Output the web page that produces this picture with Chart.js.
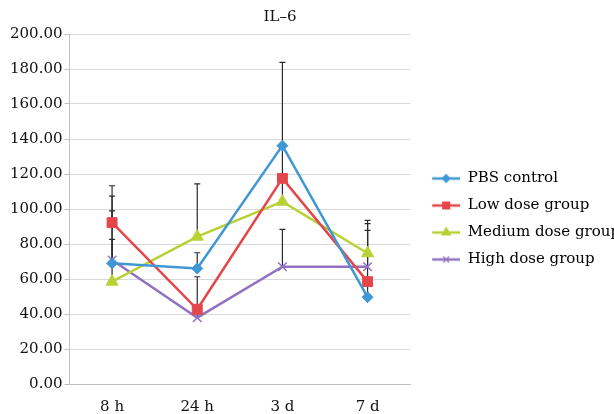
<!DOCTYPE html>
<html>
<head>
<meta charset="utf-8">
<script src="https://cdn.jsdelivr.net/npm/chart.js@4.4.1/dist/chart.umd.min.js"></script>
<style>
  html, body { margin: 0; padding: 0; background: #ffffff; }
  #wrap { width: 614px; height: 414px; position: relative; }
</style>
</head>
<body>
<div id="wrap"><canvas id="c" width="614" height="414"></canvas></div>
<script>
// ---- data ----
const categories = ['8 h', '24 h', '3 d', '7 d'];
const seriesNames = ['PBS control', 'Low dose group', 'Medium dose group', 'High dose group'];
const pbsControl = [69.0, 66.0, 136.2, 49.6];
const lowDose    = [92.2, 42.7, 117.5, 58.5];
const mediumDose = [58.5, 84.2, 104.2, 74.7];
const highDose   = [70.9, 37.9, 67.0, 67.0];
// upper error bars (SD)
const pbsErr    = [38.4, 9.0, 47.6, 8.5];
const lowErr    = [21.1, 18.6, 18.0, 29.3];
const mediumErr = [24.2, 30.2, 13.0, 18.8];
const highErr   = [28.0, 3.0, 21.4, 24.6];
const yMin = 0, yMax = 200, yStep = 20;
const chartTitle = 'IL–6';

const FONT = "'DejaVu Serif', 'Liberation Serif', serif";
const colors = ['#3f98d4', '#e4474a', '#b8d235', '#9171c2'];
const styles = ['rectRot', 'rect', 'triangle', 'crossRot'];
const radii = [5.5, 7, 7, 6];
const values = [pbsControl, lowDose, mediumDose, highDose];
const errors = [pbsErr, lowErr, mediumErr, highErr];

function legendImage(i) {
  const cv = document.createElement('canvas');
  cv.width = 38; cv.height = 14;
  const ctx = cv.getContext('2d');
  ctx.strokeStyle = colors[i];
  ctx.lineWidth = 2.5;
  ctx.beginPath(); ctx.moveTo(10, 7); ctx.lineTo(38, 7); ctx.stroke();
  ctx.fillStyle = colors[i];
  ctx.strokeStyle = colors[i];
  ctx.lineWidth = 1.2;
  Chart.helpers.drawPoint(ctx, { pointStyle: styles[i], radius: radii[i] * 0.7, rotation: 0, borderWidth: 1.2 }, 24, 7);
  return cv;
}

const errorBarPlugin = {
  id: 'errorBars',
  beforeDatasetsDraw(chart) {
    const ctx = chart.ctx;
    const yScale = chart.scales.y;
    ctx.save();
    ctx.strokeStyle = '#2b2b2b';
    ctx.lineWidth = 1.2;
    chart.data.datasets.forEach((ds, i) => {
      const meta = chart.getDatasetMeta(i);
      meta.data.forEach((pt, j) => {
        const v = ds.data[j];
        const e = errors[i][j];
        const x = pt.x;
        const y0 = yScale.getPixelForValue(v);
        const y1 = yScale.getPixelForValue(v + e);
        ctx.beginPath();
        ctx.moveTo(x, y0); ctx.lineTo(x, y1);
        ctx.moveTo(x - 3, y1); ctx.lineTo(x + 3, y1);
        ctx.stroke();
      });
    });
    ctx.restore();
  }
};

const titlePlugin = {
  id: 'customTitle',
  afterDraw(chart) {
    const ctx = chart.ctx;
    ctx.save();
    ctx.font = '15px ' + FONT;
    ctx.fillStyle = '#111111';
    ctx.textAlign = 'center';
    ctx.textBaseline = 'middle';
    ctx.fillText(chartTitle, 280, 17);
    ctx.restore();
  }
};

const legendShiftPlugin = {
  id: 'legendShift',
  afterLayout(chart) {
    const l = chart.legend;
    if (l) { l.top -= 13; l.bottom -= 13; }
  }
};

Chart.defaults.font.family = FONT;
Chart.defaults.font.size = 15;
Chart.defaults.color = '#111111';

new Chart(document.getElementById('c'), {
  type: 'line',
  data: {
    labels: categories,
    datasets: values.map((d, i) => ({
      label: seriesNames[i],
      data: d,
      borderColor: colors[i],
      backgroundColor: colors[i],
      borderWidth: 2.5,
      pointStyle: styles[i],
      pointRadius: radii[i],
      pointBorderWidth: styles[i] === 'crossRot' ? 1.5 : 1,
      pointBackgroundColor: colors[i],
      pointBorderColor: colors[i],
      tension: 0,
      fill: false
    }))
  },
  options: {
    responsive: false,
    animation: false,
    devicePixelRatio: 1,
    layout: { padding: { left: 8, top: 34, right: -16, bottom: -16 } },
    plugins: {
      legend: {
        position: 'right',
        align: 'center',
        maxWidth: 300,
        labels: {
          usePointStyle: true,
          pointStyleWidth: 38,
          padding: 12,
          font: { size: 15, family: FONT },
          color: '#111111',
          generateLabels(chart) {
            return chart.data.datasets.map((ds, i) => ({
              text: ds.label,
              pointStyle: legendImage(i),
              fillStyle: colors[i],
              strokeStyle: colors[i],
              lineWidth: 0,
              hidden: false,
              datasetIndex: i
            }));
          }
        }
      },
      title: { display: false },
      tooltip: { enabled: false }
    },
    scales: {
      x: {
        offset: true,
        grid: { display: false, drawTicks: false },
        border: { display: true, color: '#bfbfbf', width: 1 },
        ticks: { padding: 14, color: '#111111', font: { size: 15, family: FONT } }
      },
      y: {
        min: yMin,
        max: yMax,
        grid: { color: '#d9d9d9', tickColor: '#bfbfbf', tickLength: 5, lineWidth: 1 },
        border: { display: true, color: '#bfbfbf', width: 1 },
        ticks: {
          stepSize: yStep,
          padding: 2,
          color: '#111111',
          font: { size: 15, family: FONT },
          callback: (v) => Number(v).toFixed(2)
        }
      }
    }
  },
  plugins: [errorBarPlugin, titlePlugin, legendShiftPlugin]
});
</script>
</body>
</html>
